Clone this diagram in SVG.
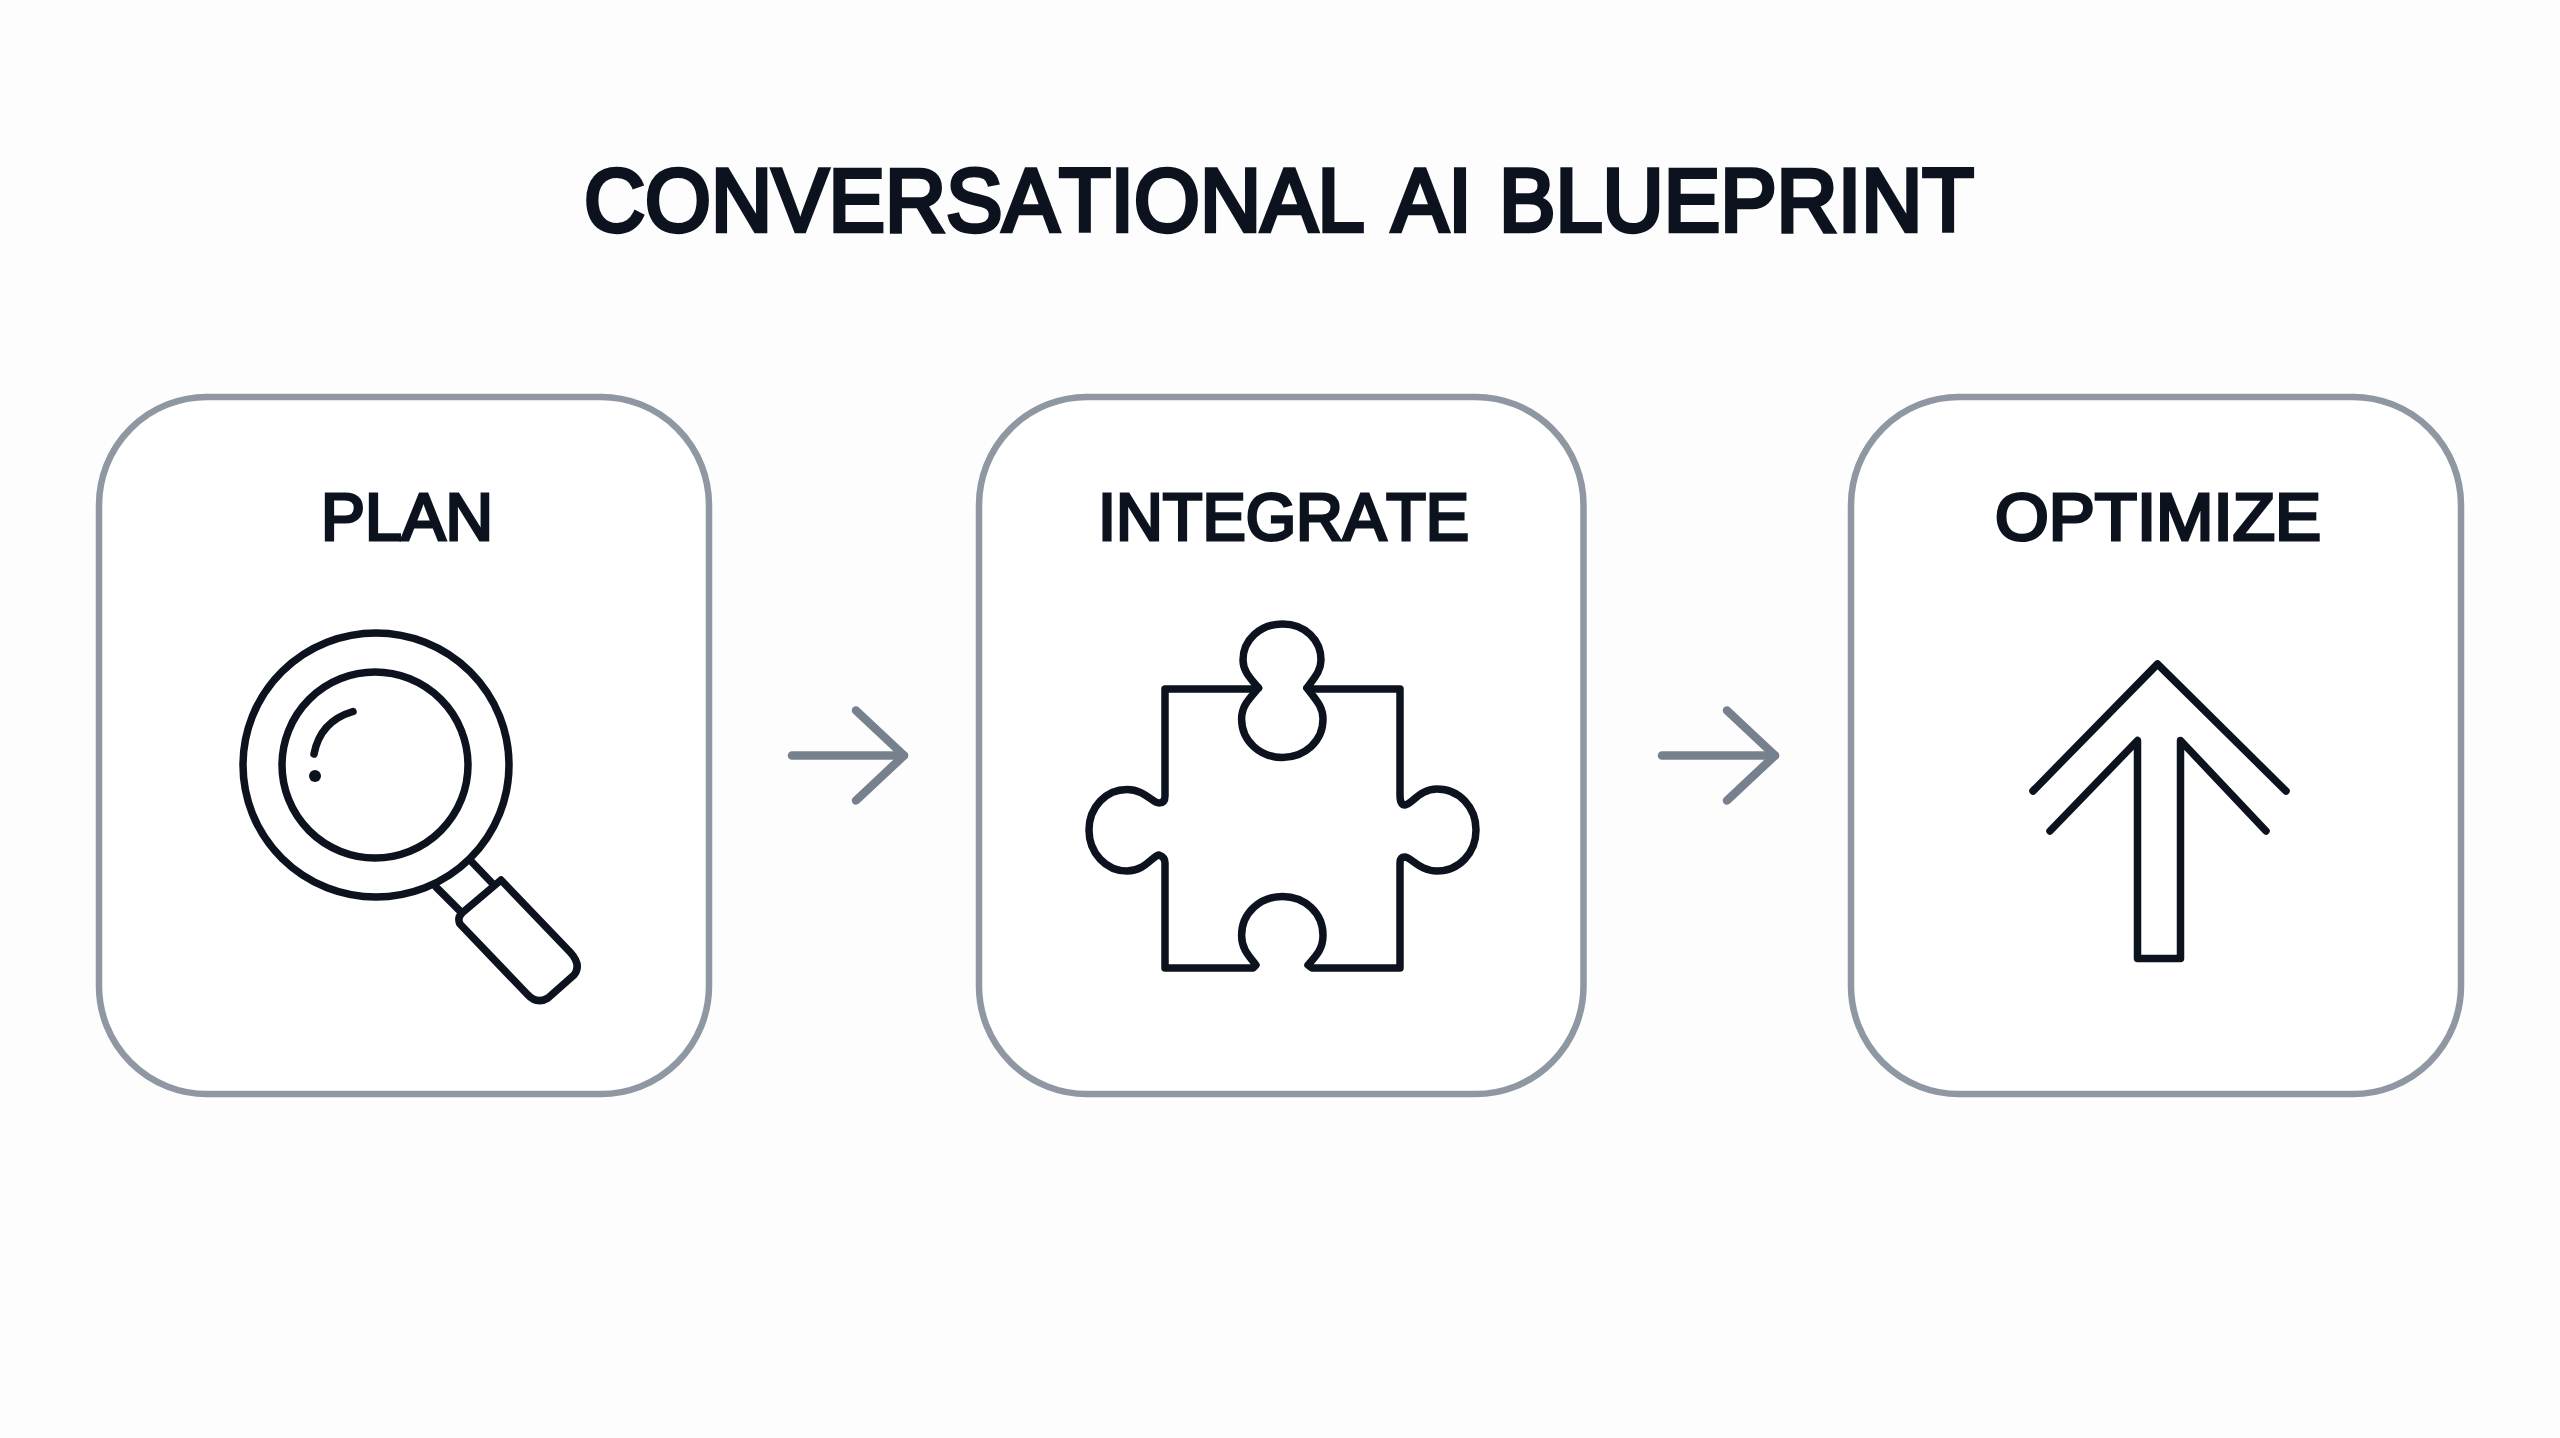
<svg xmlns="http://www.w3.org/2000/svg" width="2560" height="1438" viewBox="0 0 2560 1438">
<style>
.card{fill:#fff;stroke:#8f97a3;stroke-width:6.500}
.ico{fill:none;stroke:#0d131e;stroke-width:7.500;stroke-linecap:round;stroke-linejoin:round}
.lab{font-family:"Liberation Sans",Arial,sans-serif;font-weight:400;font-size:67px;font-kerning:none;fill:#0d131e;stroke:#0d131e;stroke-width:3.200}
.ttl{font-family:"Liberation Sans",Arial,sans-serif;font-weight:400;font-size:89px;font-kerning:none;word-spacing:4px;fill:#0d131e;stroke:#0d131e;stroke-width:4.400}
.conn{fill:none;stroke:#77818e;stroke-width:8.500;stroke-linecap:round;stroke-linejoin:round}
</style>
<defs>
<marker id="head" markerUnits="userSpaceOnUse" viewBox="-60 -55 70 110" refX="0" refY="0" markerWidth="70" markerHeight="110" orient="auto">
<path class="conn" d="M-48,-45 L0,0 L-48,45"/>
</marker>
</defs>
<rect width="2560" height="1438" fill="#fdfdfd"/>
<text id="title" class="ttl" x="584" y="231" textLength="1390" lengthAdjust="spacingAndGlyphs">CONVERSATIONAL AI BLUEPRINT</text>
<g id="connectors">
<line class="conn" x1="792" y1="755.500" x2="904" y2="755.500" marker-end="url(#head)"/>
<line class="conn" x1="1662" y1="755.500" x2="1775" y2="755.500" marker-end="url(#head)"/>
</g>
<g id="node-plan">
<rect class="card" x="99" y="397" width="610" height="697" rx="108" ry="108"/>
<text class="lab" x="321" y="540" textLength="172" lengthAdjust="spacingAndGlyphs">PLAN</text>
<ellipse class="ico" cx="376" cy="765" rx="133" ry="132"/>
<ellipse class="ico" cx="375" cy="765" rx="93" ry="93"/>
<path class="ico" d="M314,754 C318,733 331,718 353,711.500"/>
<circle cx="315" cy="776" r="6" fill="#0d131e"/>
<path class="ico" d="M436,887 L462,913 M470,860 L492,883 M462,913 L501,880 L570,952 Q582,965 574,975 L548,998 Q537,1005 527,994 L460,924 Q457,918 462,913"/>
</g>
<g id="node-integrate">
<rect class="card" x="979" y="397" width="604.500" height="697" rx="108" ry="108"/>
<text class="lab" x="1098" y="540" textLength="371" lengthAdjust="spacingAndGlyphs">INTEGRATE</text>
<path class="ico" d="M1165,689 H1256 L1258.500,688 C1250,678 1243,671 1243,660 C1243,640 1260,624 1282.500,624 C1305,624 1321,640 1321,660 C1321,671 1314,678 1307,688 L1312,689 H1400 V795 Q1400,805 1405,805 C1412,804 1420,789 1437,789 C1459,789 1476,807 1476,830 C1476,853 1459,871 1437,871 C1420,871 1412,858 1405,857 Q1400,857 1400,863 V968 H1312 L1308,965 C1316,956 1323,949 1323,935.500 C1323,913 1305,896.500 1282.500,896.500 C1260,896.500 1241.600,913 1241.600,935.500 C1241.600,949 1249,956 1256,965 L1253,968 H1165 V863 Q1165,857 1159,855 C1152,856 1145,871 1127,871 C1106,871 1089,853 1089,830 C1089,807 1106,789.500 1127,789.500 C1145,789.500 1152,803 1159,803 Q1165,803 1165,796 Z"/>
<path class="ico" d="M1258.500,688 C1249,699 1241.600,706 1241.600,719 C1241.600,741 1260,757.400 1282.500,757.400 C1305,757.400 1323,741 1323,719 C1323,706 1315,699 1307,688"/>
</g>
<g id="node-optimize">
<rect class="card" x="1851" y="397" width="610" height="697" rx="108" ry="108"/>
<text class="lab" x="1995" y="540" textLength="326" lengthAdjust="spacingAndGlyphs">OPTIMIZE</text>
<path class="ico" d="M2033,791 L2157.500,664 L2286,791"/>
<path class="ico" d="M2050,831 L2137.500,740.500 V958.500 H2180.500 V740.500 L2266,831"/>
</g>
</svg>
